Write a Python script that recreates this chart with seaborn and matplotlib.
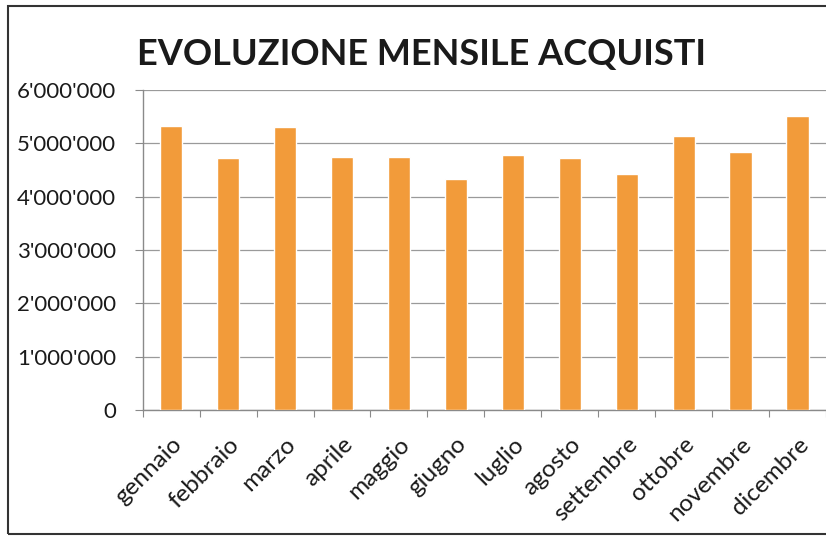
import matplotlib
matplotlib.use("Agg")
import matplotlib.pyplot as plt
import seaborn as sns
from matplotlib.patches import Rectangle
from matplotlib.ticker import FuncFormatter, FixedLocator


mesi = ["gennaio", "febbraio", "marzo", "aprile", "maggio", "giugno",
        "luglio", "agosto", "settembre", "ottobre", "novembre", "dicembre"]
acquisti = [5330000, 4720000, 5300000, 4750000, 4750000, 4330000,
            4790000, 4720000, 4420000, 5140000, 4840000, 5510000]
titolo = "EVOLUZIONE MENSILE ACQUISTI"

sns.set_style("white")
plt.rcParams["font.family"] = ["Lato", "DejaVu Sans"]

fig = plt.figure(figsize=(8.26, 5.38), dpi=100)
ax = fig.add_axes([0.1728, 0.2379, 1.0 - 0.1728, 0.8327 - 0.2379])

sns.barplot(x=mesi, y=acquisti, color="#F29B3A", saturation=1, width=0.39,
            ax=ax, zorder=3)

ax.set_ylim(0, 6000000)
ax.set_xlim(-0.5, len(mesi) - 0.5)
ax.set_yticks(range(0, 6000001, 1000000))
ax.yaxis.set_major_formatter(FuncFormatter(lambda v, p: f"{int(v):,}".replace(",", "'")))
ax.grid(axis="y", color="#9A9A9A", linewidth=0.9, zorder=0)
ax.grid(axis="x", visible=False)
ax.set_xlabel("")
ax.set_ylabel("")

for s in ["top", "right"]:
    ax.spines[s].set_visible(False)
for s in ["left", "bottom"]:
    ax.spines[s].set_color("#8A8A8A")
    ax.spines[s].set_linewidth(1.0)

ax.tick_params(axis="y", length=6, width=0.8, color="#8A8A8A", pad=13,
               labelsize=16, labelcolor="#1A1A1A", left=True)
ax.tick_params(axis="x", which="major", length=0, pad=17,
               labelsize=17.5, labelcolor="#1A1A1A")
ax.xaxis.set_minor_locator(FixedLocator([i - 0.5 for i in range(len(mesi) + 1)]))
ax.tick_params(axis="x", which="minor", length=5, width=0.8, color="#8A8A8A",
               bottom=True)
for lab in ax.get_xticklabels():
    lab.set_rotation(45)
    lab.set_ha("right")
    lab.set_rotation_mode("anchor")

fig.text(0.51, 0.898, titolo, ha="center", va="center", fontsize=26,
         fontweight="bold", color="#1A1A1A")

fig.patches.append(Rectangle((8 / 826, 4 / 538), 1.1, 528 / 538,
                             transform=fig.transFigure, fill=False,
                             edgecolor="#333333", linewidth=1.5))

fig.savefig("out.png", dpi=100)
